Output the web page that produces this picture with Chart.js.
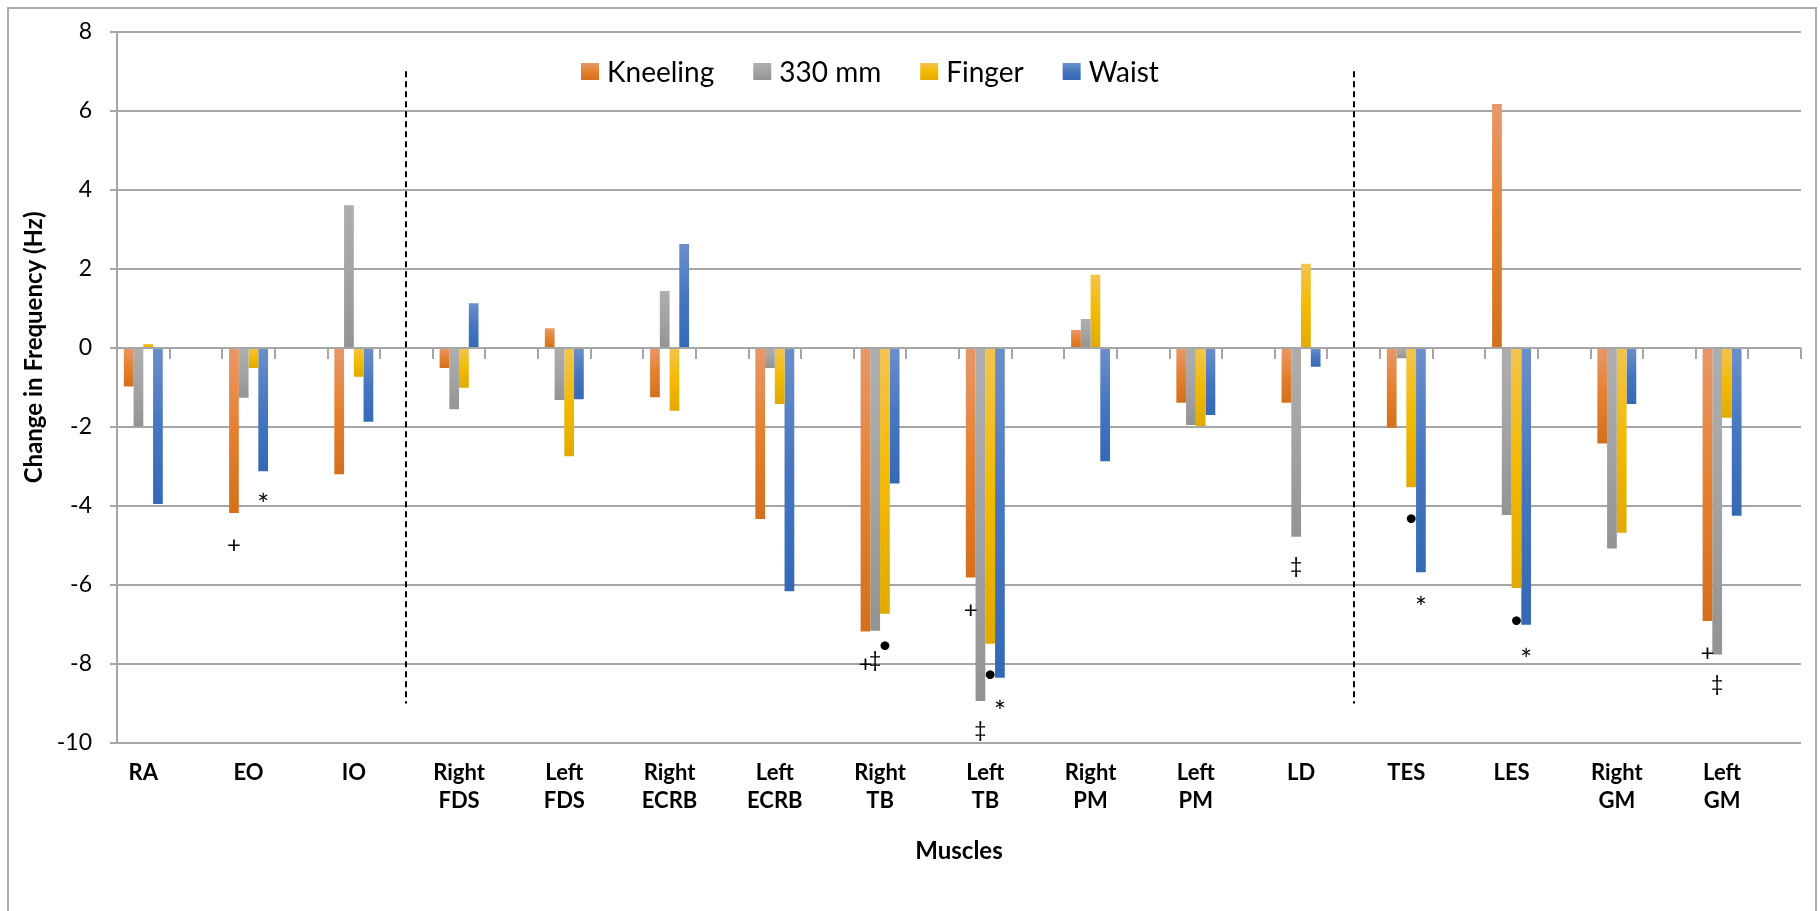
<!DOCTYPE html>
<html>
<head>
<meta charset="utf-8">
<script src="https://cdn.jsdelivr.net/npm/chart.js@4.4.0/dist/chart.umd.min.js"></script>
<style>
  html, body { margin: 0; padding: 0; background: #fff; overflow: hidden; }
  #frame { position: absolute; left: 7px; top: 7px; width: 1806px; height: 1000px; border: 2px solid #ABABAB; }
  #chart { position: absolute; left: 0; top: 0; }
</style>
</head>
<body>
<div id="frame"></div>
<canvas id="chart" width="1820" height="911"></canvas>
<script>
const muscles = ['RA', 'EO', 'IO', 'Right FDS', 'Left FDS', 'Right ECRB', 'Left ECRB', 'Right TB',
    'Left TB', 'Right PM', 'Left PM', 'LD', 'TES', 'LES', 'Right GM', 'Left GM'];
const seriesNames = ['Kneeling', '330 mm', 'Finger', 'Waist'];

const kneeling = [-0.98, -4.18, -3.2, -0.51, 0.5, -1.25, -4.33, -7.18, -5.81, 0.45, -1.39, -1.39, -2.02, 6.17, -2.42, -6.91];
const mm330    = [-1.99, -1.26, 3.61, -1.55, -1.32, 1.44, -0.51, -7.16, -8.94, 0.73, -1.95, -4.78, -0.26, -4.23, -5.08, -7.76];
const finger   = [0.1, -0.51, -0.73, -1.01, -2.74, -1.59, -1.42, -6.73, -7.49, 1.85, -1.98, 2.13, -3.53, -6.08, -4.68, -1.77];
const waist    = [-3.95, -3.12, -1.87, 1.13, -1.3, 2.63, -6.16, -3.43, -8.35, -2.87, -1.7, -0.48, -5.68, -7.01, -1.42, -4.25];

const yMin = -10;
const yMax = 8;
const yStep = 2;
const yTitle = 'Change in Frequency (Hz)';
const xTitle = 'Muscles';

// dashed separators sit in the gap after these muscles, spanning these values
const dividers = ['IO', 'LD'];
const dividerSpan = [7, -9];

// significance marks per series: [muscle, value at which the mark sits]
const markSymbols = ['+', '\u2021', '\u2022', '*'];
const markSizes = [24, 21, 24, 28];
const marksKneeling = [['EO', -4.98], ['Right TB', -8.0], ['Left TB', -6.63], ['Left GM', -7.71]];
const marks330 = [['Right TB', -7.92], ['Left TB', -9.7], ['LD', -5.54], ['Left GM', -8.52]];
const marksFinger = [['Right TB', -7.52], ['Left TB', -8.27], ['TES', -4.33], ['LES', -6.89]];
const marksWaist = [['EO', -3.78], ['Left TB', -9.02], ['TES', -6.38], ['LES', -7.69]];

const gradients = [
    ['#E8976A', '#E4812F', '#D4701C'],
    ['#AEAEAE', '#A3A3A3', '#939393'],
    ['#F3C44F', '#F2BA00', '#E2AA00'],
    ['#6C8FCB', '#4676C0', '#3469B6']
];

// every muscle is followed by an empty slot, like the original sheet
const labels = [];
muscles.forEach(m => {
    labels.push(m.indexOf(' ') > 0 ? m.split(' ') : m);
    labels.push('');
});
function spread(values) {
    const out = [];
    values.forEach(v => { out.push(v); out.push(null); });
    return out;
}
function slotOf(muscle) {
    return muscles.indexOf(muscle) * 2;
}

function barFill(stops) {
    return function(ctx) {
        const chart = ctx.chart;
        const y = chart.scales.y;
        if (!chart.chartArea || !y || ctx.raw == null) return stops[1];
        const p = y.getPixelForValue(ctx.raw);
        const b = y.getPixelForValue(0);
        const top = Math.min(p, b), bottom = Math.max(p, b);
        if (bottom - top < 1) return stops[1];
        const g = chart.ctx.createLinearGradient(0, top, 0, bottom);
        g.addColorStop(0, stops[0]);
        g.addColorStop(0.5, stops[1]);
        g.addColorStop(1, stops[2]);
        return g;
    };
}

const seriesValues = [kneeling, mm330, finger, waist];
const seriesMarks = [marksKneeling, marks330, marksFinger, marksWaist];

const datasets = seriesNames.map((name, i) => ({
    label: name,
    data: spread(seriesValues[i]),
    backgroundColor: barFill(gradients[i]),
    borderWidth: 0,
    categoryPercentage: 0.74,
    barPercentage: 1
}));

const decor = {
    id: 'decor',
    beforeDatasetsDraw(chart) {
        const ctx = chart.ctx;
        const x = chart.scales.x, y = chart.scales.y;
        const step = x.getPixelForValue(1) - x.getPixelForValue(0);
        const start = x.getPixelForValue(0) - step / 2;
        const y0 = y.getPixelForValue(0);
        ctx.save();
        ctx.strokeStyle = '#A6A6A6';
        ctx.lineWidth = 2;
        ctx.beginPath();
        for (let i = 0; i <= labels.length; i++) {
            const px = Math.round(start + i * step);
            ctx.moveTo(px, y0);
            ctx.lineTo(px, y0 + 11);
        }
        ctx.stroke();
        ctx.restore();
    },
    afterDatasetsDraw(chart) {
        const ctx = chart.ctx;
        const x = chart.scales.x, y = chart.scales.y;
        const area = chart.chartArea;
        ctx.save();

        // dashed separators
        ctx.strokeStyle = '#000';
        ctx.lineWidth = 2;
        ctx.setLineDash([6, 4]);
        dividers.forEach(m => {
            const px = Math.round(x.getPixelForValue(slotOf(m) + 1));
            ctx.beginPath();
            ctx.moveTo(px, y.getPixelForValue(dividerSpan[0]));
            ctx.lineTo(px, y.getPixelForValue(dividerSpan[1]));
            ctx.stroke();
        });
        ctx.setLineDash([]);

        // significance marks
        ctx.fillStyle = '#000';
        ctx.textAlign = 'center';
        ctx.textBaseline = 'alphabetic';
        seriesMarks.forEach((list, s) => {
            const meta = chart.getDatasetMeta(s);
            const sym = markSymbols[s];
            ctx.font = markSizes[s] + 'px Lato';
            const m = ctx.measureText(sym);
            const shift = (m.actualBoundingBoxAscent - m.actualBoundingBoxDescent) / 2;
            list.forEach(([muscle, v]) => {
                const el = meta.data[slotOf(muscle)];
                ctx.fillText(sym, el.x, y.getPixelForValue(v) + shift);
            });
        });

        // legend
        ctx.font = '28px Lato';
        ctx.textAlign = 'left';
        ctx.textBaseline = 'middle';
        let lx = area.left + 464;
        const boxTop = 63, boxH = 17, boxW = 18;
        seriesNames.forEach((name, i) => {
            const g = ctx.createLinearGradient(0, boxTop, 0, boxTop + boxH);
            g.addColorStop(0, gradients[i][0]);
            g.addColorStop(0.5, gradients[i][1]);
            g.addColorStop(1, gradients[i][2]);
            ctx.fillStyle = g;
            ctx.fillRect(lx, boxTop, boxW, boxH);
            ctx.fillStyle = '#000';
            ctx.fillText(name, lx + boxW + 8, boxTop + boxH / 2 + 1);
            lx += boxW + 8 + ctx.measureText(name).width + 39;
        });

        // vertical axis title, sitting a little above the middle as in the original
        ctx.font = 'bold 24px Lato';
        ctx.textAlign = 'center';
        ctx.textBaseline = 'middle';
        ctx.translate(34, (area.top + area.bottom) / 2 - 40);
        ctx.rotate(-Math.PI / 2);
        ctx.fillText(yTitle, 0, 0);
        ctx.restore();
    }
};

new Chart(document.getElementById('chart').getContext('2d'), {
    type: 'bar',
    data: {
        labels: labels,
        datasets: datasets
    },
    options: {
        responsive: false,
        devicePixelRatio: 1,
        animation: false,
        layout: { padding: { top: 25, right: 19, bottom: 0, left: 0 } },
        plugins: {
            legend: { display: false },
            tooltip: { enabled: false }
        },
        scales: {
            x: {
                offset: true,
                grid: { display: false, drawTicks: false },
                border: { display: false },
                ticks: {
                    autoSkip: false,
                    maxRotation: 0,
                    minRotation: 0,
                    color: '#000',
                    padding: 16,
                    font: { family: 'Lato', size: 22, weight: 'bold', lineHeight: 28 / 22 }
                },
                title: {
                    display: true,
                    text: xTitle,
                    color: '#000',
                    font: { family: 'Lato', size: 24, weight: 'bold' },
                    padding: { top: 0, bottom: 45 }
                },
                afterFit: s => { s.height = 168; }
            },
            y: {
                min: yMin,
                max: yMax,
                ticks: {
                    stepSize: yStep,
                    color: '#000',
                    padding: 18,
                    font: { family: 'Lato', size: 23 }
                },
                grid: { color: '#A6A6A6', lineWidth: 2, tickLength: 7 },
                border: { color: '#A6A6A6', width: 2 },
                afterFit: s => { s.width = 117; }
            }
        }
    },
    plugins: [decor]
});
</script>
</body>
</html>
